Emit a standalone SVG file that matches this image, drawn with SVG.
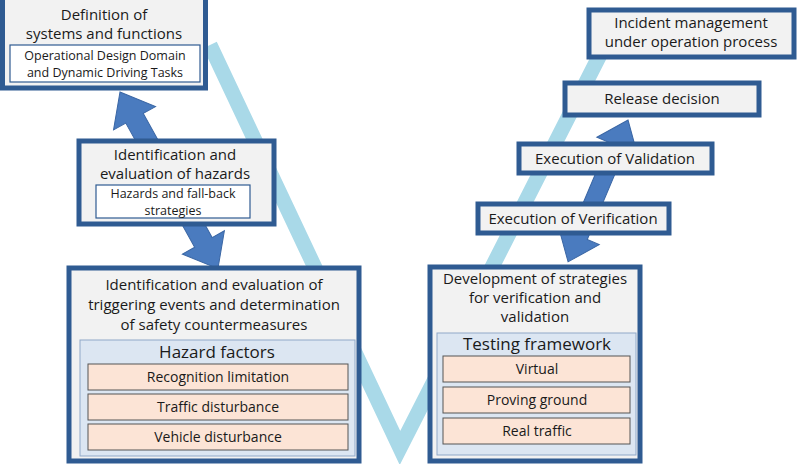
<svg xmlns="http://www.w3.org/2000/svg" width="800" height="464" viewBox="0 0 800 464">
<style>
text{font-family:"Open Sans","DejaVu Sans",sans-serif;fill:#1a1a1a;text-anchor:middle}
.box{fill:#f2f2f2;stroke:#2f5b92;stroke-width:5}
.inner{fill:#fff;stroke:#2f5b92;stroke-width:1.2}
.panel{fill:#dce6f2;stroke:#8fa8c8;stroke-width:1}
.row{fill:#fce4d6;stroke:#555;stroke-width:1}
.t{font-size:15px}
.s{font-size:12.5px}
.r{font-size:14px}
.arrow{fill:#4a7bbf;stroke:#3a66a4;stroke-width:1}
</style>
<polyline points="210,45 400,448 605,45" fill="none" stroke="#a9d9e8" stroke-width="15"/>
<g id="connectors">
<path class="arrow" transform="translate(120,92) rotate(61)" d="M0,0 L30,-24 L30,-10 L172,-10 L172,-24 L202,0 L172,24 L172,10 L30,10 L30,24 Z"/>
<path class="arrow" transform="translate(628,120) rotate(112.9)" d="M0,0 L28,-22 L28,-9 L126,-9 L126,-22 L154,0 L126,22 L126,9 L28,9 L28,22 Z"/>
</g>
<g id="definition">
<rect class="box" x="2.5" y="-3" width="203" height="91"/>
<text class="t" x="104" y="20">Definition of</text>
<text class="t" x="104" y="39">systems and functions</text>
<rect class="inner" x="10" y="45" width="190" height="37"/>
<text class="s" x="105" y="60">Operational Design Domain</text>
<text class="s" x="105" y="77">and Dynamic Driving Tasks</text>
</g>
<g id="hazards">
<rect class="box" x="79" y="141" width="195" height="83"/>
<text class="t" x="175" y="160">Identification and</text>
<text class="t" x="175" y="179">evaluation of hazards</text>
<rect class="inner" x="96" y="185" width="154" height="33"/>
<text class="s" x="173" y="198">Hazards and fall-back</text>
<text class="s" x="173" y="215">strategies</text>
</g>
<g id="triggering">
<rect class="box" x="69" y="268" width="290" height="193"/>
<text class="t" x="214" y="290">Identification and evaluation of</text>
<text class="t" x="214" y="310">triggering events and determination</text>
<text class="t" x="214" y="330">of safety countermeasures</text>
<rect class="panel" x="80" y="340" width="275" height="116"/>
<text x="217" y="358" style="font-size:17px">Hazard factors</text>
<rect class="row" x="88" y="364" width="260" height="26"/>
<text class="r" x="218" y="382">Recognition limitation</text>
<rect class="row" x="88" y="394" width="260" height="26"/>
<text class="r" x="218" y="412">Traffic disturbance</text>
<rect class="row" x="88" y="424" width="260" height="26"/>
<text class="r" x="218" y="442">Vehicle disturbance</text>
</g>
<g id="strategies">
<rect class="box" x="430" y="267" width="210" height="194"/>
<text class="t" x="535" y="284">Development of strategies</text>
<text class="t" x="535" y="303">for verification and</text>
<text class="t" x="535" y="322">validation</text>
<rect class="panel" x="437" y="333" width="199" height="122"/>
<text x="537" y="350" style="font-size:17px">Testing framework</text>
<rect class="row" x="443" y="356" width="187" height="26"/>
<text class="r" x="537" y="374">Virtual</text>
<rect class="row" x="443" y="387" width="187" height="26"/>
<text class="r" x="537" y="405">Proving ground</text>
<rect class="row" x="443" y="418" width="187" height="26"/>
<text class="r" x="537" y="436">Real traffic</text>
</g>
<g id="incident">
<rect class="box" x="589" y="10" width="205" height="47"/>
<text class="t" x="691" y="28">Incident management</text>
<text class="t" x="691" y="47">under operation process</text>
</g>
<g id="release">
<rect class="box" x="565" y="83" width="194" height="32"/>
<text class="t" x="662" y="104">Release decision</text>
</g>
<g id="validation">
<rect class="box" x="519" y="144" width="193" height="29"/>
<text class="t" x="615" y="164">Execution of Validation</text>
</g>
<g id="verification">
<rect class="box" x="478" y="204" width="191" height="29"/>
<text class="t" x="573" y="224">Execution of Verification</text>
</g>
</svg>
